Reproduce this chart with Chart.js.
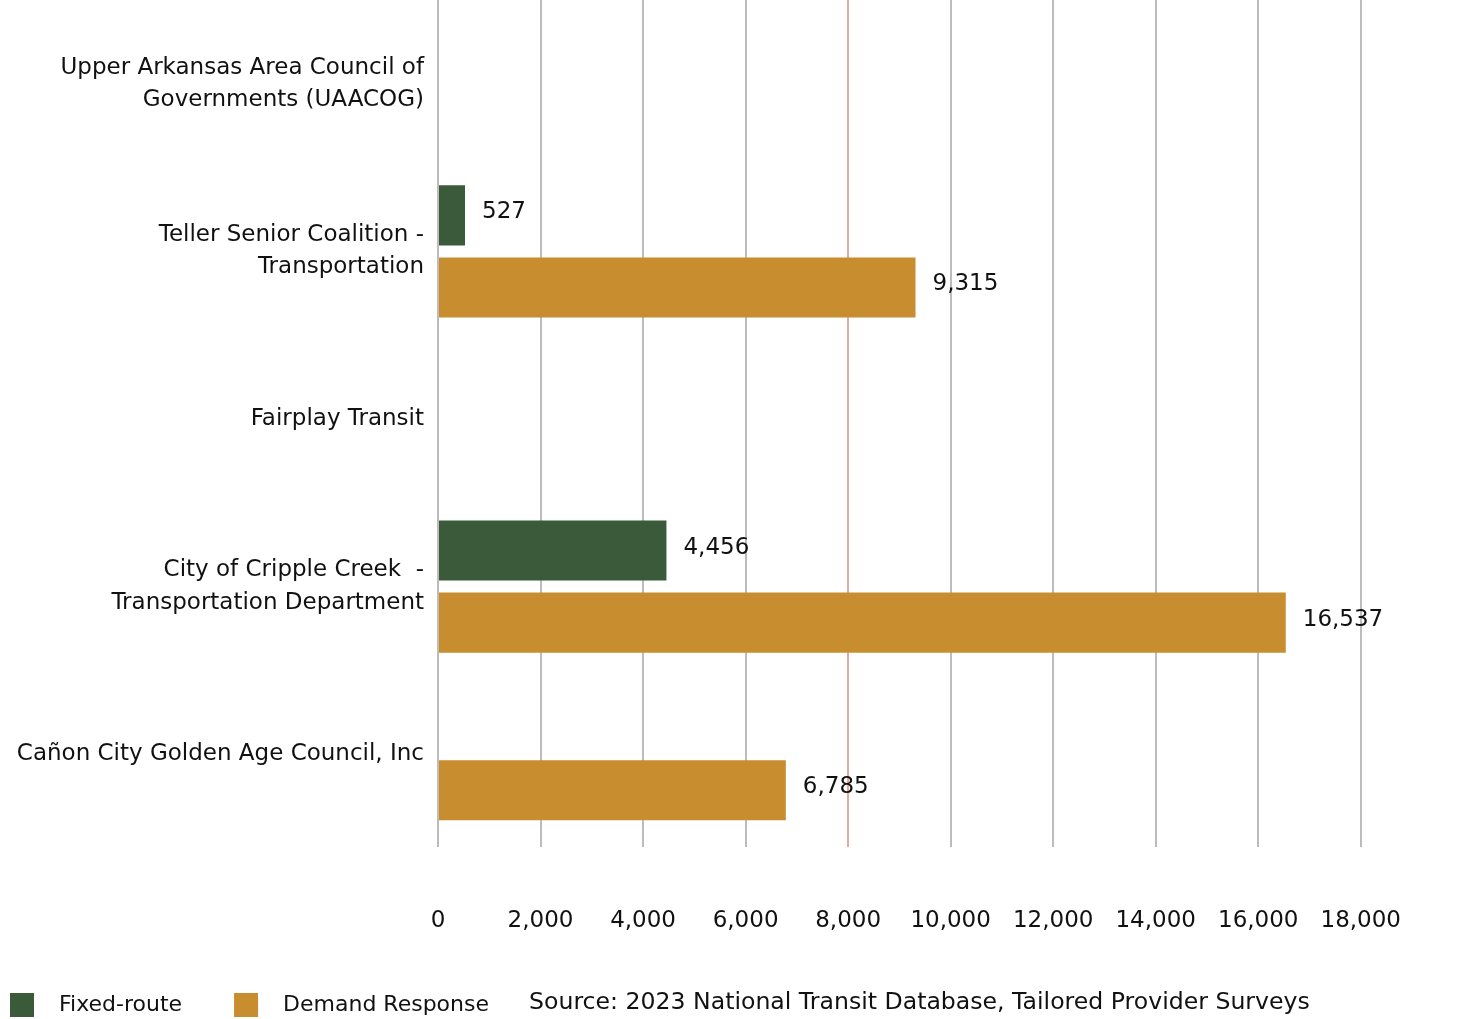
<!DOCTYPE html>
<html>
<head>
<meta charset="utf-8">
<title>Trips by provider</title>
<script src="https://cdn.jsdelivr.net/npm/chart.js@4.4.1/dist/chart.umd.min.js"></script>
<style>
    html, body { margin: 0; padding: 0; background: #ffffff; }
    #wrap { width: 1461px; height: 1019px; }
</style>
</head>
<body>
<div id="wrap"><canvas id="tripsChart" width="1461" height="1019"></canvas></div>
<script>
// chart data
const providers = [
    ["Upper Arkansas Area Council of", "Governments (UAACOG)"],
    ["Teller Senior Coalition -", "Transportation"],
    "Fairplay Transit",
    ["City of Cripple Creek  -", "Transportation Department"],
    "Cañon City Golden Age Council, Inc"
];
const fixedRoute = [null, 527, null, 4456, null];
const demandResponse = [null, 9315, null, 16537, 6785];
const xTicks = [0, 2000, 4000, 6000, 8000, 10000, 12000, 14000, 16000, 18000];
const sourceNote = "Source: 2023 National Transit Database, Tailored Provider Surveys";

const FONT = "'DejaVu Sans', sans-serif";
const INK = "#111111";

document.addEventListener("DOMContentLoaded", function () {
    // value labels at the end of each bar
    const barValues = {
        id: "barValues",
        afterDatasetsDraw(chart) {
            const ctx = chart.ctx;
            ctx.save();
            ctx.font = "23px " + FONT;
            ctx.fillStyle = INK;
            ctx.textAlign = "left";
            ctx.textBaseline = "middle";
            chart.data.datasets.forEach((ds, i) => {
                chart.getDatasetMeta(i).data.forEach((bar, j) => {
                    const v = ds.data[j];
                    if (v === null || v === undefined) return;
                    ctx.fillText(v.toLocaleString("en-US"), bar.x + 17, bar.y - 3);
                });
            });
            ctx.restore();
        }
    };

    // legend + source line along the bottom
    const bottomLegend = {
        id: "bottomLegend",
        afterDraw(chart) {
            const ctx = chart.ctx;
            const y = chart.height - 14;
            let x = 10;
            ctx.save();
            ctx.textBaseline = "middle";
            ctx.textAlign = "left";
            ctx.font = "22px " + FONT;
            chart.data.datasets.forEach((ds, i) => {
                ctx.fillStyle = ds.backgroundColor;
                ctx.fillRect(x, y - 12, 24, 24);
                x += 49;
                ctx.fillStyle = INK;
                ctx.fillText(ds.label, x, y);
                x += ctx.measureText(ds.label).width + (i === 0 ? 52 : 40);
            });
            ctx.font = "23.6px " + FONT;
            ctx.fillText(sourceNote, x, y - 2);
            ctx.restore();
        }
    };

    const ctx = document.getElementById("tripsChart").getContext("2d");
    new Chart(ctx, {
        type: "bar",
        data: {
            labels: providers,
            datasets: [{
                label: "Fixed-route",
                data: fixedRoute,
                backgroundColor: "#3b5a3a",
                categoryPercentage: 0.86,
                barPercentage: 0.833
            }, {
                label: "Demand Response",
                data: demandResponse,
                backgroundColor: "#c88d2e",
                categoryPercentage: 0.86,
                barPercentage: 0.833
            }]
        },
        options: {
            indexAxis: "y",
            responsive: false,
            animation: false,
            layout: { padding: { top: 0, right: 99, bottom: 0, left: 0 } },
            plugins: {
                legend: { display: false },
                tooltip: { enabled: false }
            },
            scales: {
                x: {
                    min: 0,
                    max: 18000,
                    afterBuildTicks: (scale) => {
                        scale.ticks = xTicks.map(v => ({ value: v }));
                    },
                    afterFit: (scale) => { scale.height = 181; },
                    border: { display: false },
                    grid: {
                        color: (c) => c.tick && c.tick.value === 8000 ? "#e2a9a9" : "#bcbcbc",
                        lineWidth: 2,
                        tickLength: 9
                    },
                    ticks: {
                        color: INK,
                        font: { family: FONT, size: 23 },
                        padding: 60,
                        maxRotation: 0,
                        callback: (v) => v.toLocaleString("en-US")
                    }
                },
                y: {
                    afterFit: (scale) => {
                        scale.width = 438;
                        scale.paddingTop = 0;
                        scale.paddingBottom = 0;
                    },
                    border: { display: false },
                    grid: { display: false, drawTicks: false },
                    ticks: {
                        color: INK,
                        font: { family: FONT, size: 23, lineHeight: 1.4 },
                        padding: 14,
                        crossAlign: "near"
                    }
                }
            }
        },
        plugins: [barValues, bottomLegend]
    });
});
</script>
</body>
</html>
